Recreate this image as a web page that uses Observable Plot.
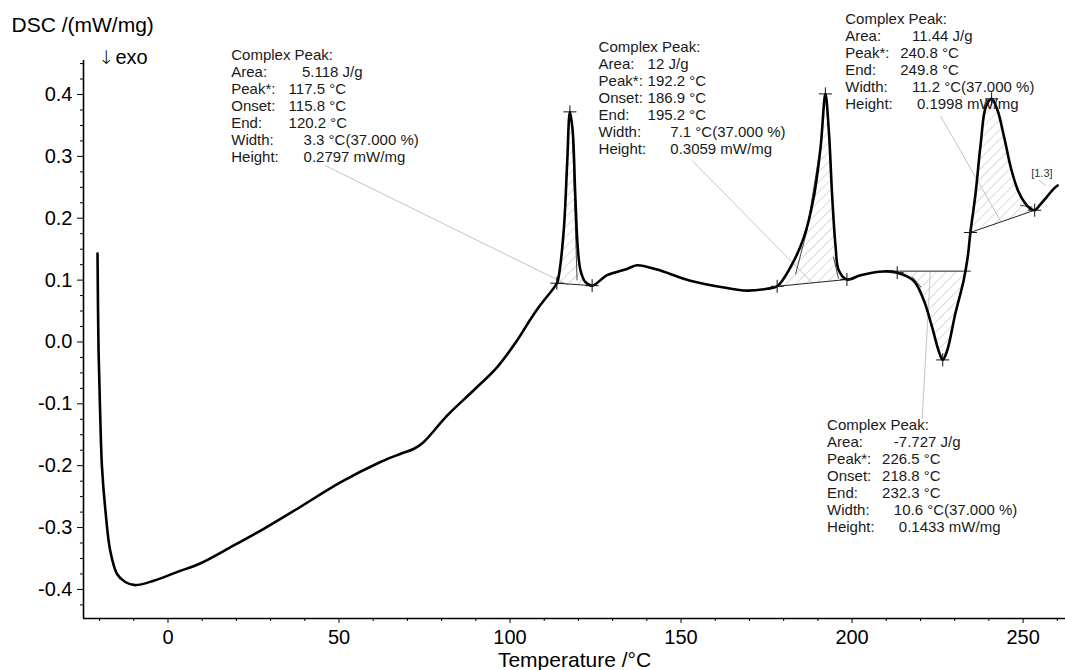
<!DOCTYPE html>
<html><head><meta charset="utf-8">
<script src="https://cdn.jsdelivr.net/npm/d3@7"></script>
<script src="https://cdn.jsdelivr.net/npm/@observablehq/plot@0.6"></script>
<style>html,body{margin:0;padding:0;background:#fff}svg{display:block}</style>
</head><body><div id="chart"></div>
<script>
// ---- data ----
const temperature = [-20.6,-20.3,-19.8,-19.3,-18.3,-16.9,-14.9,-12.5,-9.6,-4.2,2.6,9.4,18.2,28.0,37.7,50.4,62.1,67.9,71.8,74.7,81.6,89.4,96.2,102.0,105.9,108.9,113.7,114.2,115.7,116.7,117.5,118.3,119.1,119.8,120.6,122.0,124.0,128.4,134.2,137.1,143.0,152.7,162.5,169.3,175.1,178.1,182.0,185.9,188.8,190.8,192.2,193.2,194.2,195.2,196.1,198.5,202.5,209.2,213.2,218.0,221.0,223.4,225.3,226.5,227.8,230.2,232.6,233.8,234.6,236.1,237.6,239.1,240.8,242.5,244.5,246.5,248.5,250.5,252.0,253.4,255.0,257.0,259.0,260.1];
const dsc = [0.143,-0.014,-0.122,-0.202,-0.272,-0.337,-0.375,-0.388,-0.393,-0.386,-0.372,-0.358,-0.332,-0.302,-0.270,-0.227,-0.194,-0.181,-0.173,-0.162,-0.119,-0.078,-0.041,0.002,0.036,0.060,0.095,0.105,0.180,0.288,0.372,0.342,0.234,0.153,0.116,0.097,0.091,0.108,0.118,0.124,0.117,0.099,0.088,0.083,0.086,0.090,0.121,0.169,0.234,0.315,0.401,0.342,0.234,0.153,0.116,0.101,0.108,0.114,0.112,0.099,0.067,0.024,-0.014,-0.029,-0.014,0.046,0.099,0.137,0.177,0.240,0.320,0.380,0.393,0.375,0.330,0.280,0.245,0.225,0.216,0.213,0.222,0.235,0.248,0.253];

// peak baselines (start/end temperature and DSC value)
const baselineTemps = [[113.7,124.0],[178.1,198.5],[209.2,234.6],[234.6,253.4]];
const baselineDsc   = [[0.095,0.091],[0.090,0.101],[0.1145,0.1145],[0.177,0.213]];
// hatched integration ranges
const hatchTemps = [[113.7,124.0],[178.1,198.5],[213.2,232.6],[234.6,253.4]];

// "+" markers
const markerTemps = [113.7,117.5,124.0,178.1,192.2,198.5,213.2,226.5,234.6,240.8,253.4];
const markerDsc   = [0.095,0.372,0.091,0.090,0.401,0.101,0.112,-0.029,0.177,0.393,0.213];

// thin construction lines
const constructionTemps = [[119.6,118.2],[183.5,186.8,190.3],[194.6,196.0],[217.6,220.1],[249.2,252.6]];
const constructionDsc   = [[0.100,0.350],[0.110,0.180,0.300],[0.137,0.103],[0.105,0.089],[0.221,0.218]];

// leader lines from annotation boxes
const leaderTemps = [[46.0,117.0],[153.3,188.5],[225.9,243.4],[220.5,222.9],[254.7,256.5]];
const leaderDsc   = [[0.285,0.092],[0.293,0.095],[0.365,0.196],[-0.124,0.114],[0.261,0.253]];

// annotation texts
const annLabels = [
  ["Complex Peak:","Area:","Peak*:","Onset:","End:","Width:","Height:"],
  ["Complex Peak:","Area:","Peak*:","Onset:","End:","Width:","Height:"],
  ["Complex Peak:","Area:","Peak*:","End:","Width:","Height:"],
  ["Complex Peak:","Area:","Peak*:","Onset:","End:","Width:","Height:"]
];
const annValues = [
  ["","5.118 J/g","117.5 °C","115.8 °C","120.2 °C","3.3 °C(37.000 %)","0.2797 mW/mg"],
  ["","12 J/g","192.2 °C","186.9 °C","195.2 °C","7.1 °C(37.000 %)","0.3059 mW/mg"],
  ["","11.44 J/g","240.8 °C","249.8 °C","11.2 °C(37.000 %)","0.1998 mW/mg"],
  ["","-7.727 J/g","226.5 °C","218.8 °C","232.3 °C","10.6 °C(37.000 %)","0.1433 mW/mg"]
];
const annAnchorTemps = [18.5, 125.9, 198.0, 192.7];
const annAnchorDsc   = [0.463, 0.476, 0.521, -0.135];

const xMajor = [0,50,100,150,200,250];
const yMajor = [-0.4,-0.3,-0.2,-0.1,0.0,0.1,0.2,0.3,0.4];

// ---- layout / style ----
const valueOffsets = [
  [0,70.7,57.3,57.3,57.3,72.3,72.3],
  [0,49,49,49,49,71.7,71.7],
  [0,66.7,55,55,66.7,71.7],
  [0,66.7,55,55,55,66.7,71.7]
];
const lineStep = 16.9;
const xMinor = d3.range(-20, 261, 10).filter(d => d % 50 !== 0);
const yMinor = d3.range(-17, 19).map(i => +(i*0.025).toFixed(3)).filter(d => Math.abs(d*10 - Math.round(d*10)) > 1e-6);

const curve = temperature.map((T,i) => ({T, v: dsc[i]}));

const hatchRows = [];
hatchTemps.forEach(([a,b],k) => {
  const [t0,t1] = baselineTemps[k], [v0,v1] = baselineDsc[k];
  curve.filter(d => d.T >= a && d.T <= b).forEach(d => {
    hatchRows.push({k, T: d.T, v: d.v, base: v0 + (v1 - v0) * (d.T - t0) / (t1 - t0)});
  });
});
const segRows = (temps, vals) => temps.flatMap((ts,k) => ts.map((T,i) => ({k, T, v: vals[k][i]})));
const baseRows = segRows(baselineTemps, baselineDsc);
const consRows = segRows(constructionTemps, constructionDsc);
const leadRows = segRows(leaderTemps, leaderDsc);
const markers = markerTemps.map((T,i) => ({T, v: markerDsc[i]}));

const plusSymbol = {draw(ctx, size){ const r = Math.sqrt(size/Math.PI); ctx.moveTo(-r,0); ctx.lineTo(r,0); ctx.moveTo(0,-r); ctx.lineTo(0,r);} };

const annMarks = [];
annLabels.forEach((labels,b) => {
  labels.forEach((lab,i) => {
    const row = [{T: annAnchorTemps[b], v: annAnchorDsc[b]}];
    annMarks.push(Plot.text(row, {x:"T", y:"v", text: () => lab, dy: i*lineStep, textAnchor:"start", lineAnchor:"middle", fontSize:15, fill:"#1a1a1a"}));
    if (annValues[b][i]) annMarks.push(Plot.text(row, {x:"T", y:"v", text: () => annValues[b][i], dx: valueOffsets[b][i], dy: i*lineStep, textAnchor:"start", lineAnchor:"middle", fontSize:15, fill:"#1a1a1a"}));
  });
});

const xDomain = [-24.7, 262.4], yDomain = [-0.447, 0.455];

const svg = Plot.plot({
  width: 1065, height: 670,
  marginLeft: 83, marginRight: 0, marginTop: 60, marginBottom: 52,
  style: {fontFamily: "'Liberation Sans', Arial, sans-serif", background: "#fff", color: "#000"},
  x: {domain: xDomain},
  y: {domain: yDomain},
  marks: [
    Plot.areaY(hatchRows, {x:"T", y1:"base", y2:"v", z:"k", fill:"url(#hatch)", curve:"catmull-rom"}),
    Plot.line(leadRows, {x:"T", y:"v", z:"k", stroke:"#c4c4c4", strokeWidth:1}),
    Plot.line(baseRows, {x:"T", y:"v", z:"k", stroke:"#222", strokeWidth:1}),
    Plot.line(consRows, {x:"T", y:"v", z:"k", stroke:"#333", strokeWidth:0.9}),
    Plot.line(curve, {x:"T", y:"v", stroke:"#000", strokeWidth:2.6, curve:"catmull-rom"}),
    Plot.dot(markers, {x:"T", y:"v", symbol: plusSymbol, r: 6.5, stroke:"#111", strokeWidth:1, fill:"none"}),
    Plot.text([{T:255.5, v:0.272}], {x:"T", y:"v", text: () => "[1.3]", fontSize:11, fill:"#333", lineAnchor:"middle"}),
    Plot.axisX({ticks: xMajor, tickSize: 5, tickPadding: 6, fontSize: 20, tickFormat: d => String(d), label: null}),
    Plot.axisX({ticks: xMinor, tickSize: 3, tickFormat: () => "", label: null}),
    Plot.axisY({ticks: yMajor, tickSize: 6, tickPadding: 5, fontSize: 20, tickFormat: d => d.toFixed(1), label: null}),
    Plot.axisY({ticks: yMinor, tickSize: 3, tickFormat: () => "", label: null}),
    Plot.ruleX([xDomain[0]], {stroke:"#000", strokeWidth:1.6}),
    Plot.ruleY([yDomain[0]], {stroke:"#000", strokeWidth:1.6}),
    Plot.text(["DSC /(mW/mg)"], {frameAnchor:"top-left", dx:-72, dy:-35, textAnchor:"start", lineAnchor:"middle", fontSize:21}),
    Plot.text(["↓"], {frameAnchor:"top-left", dx:15, dy:-3, textAnchor:"start", lineAnchor:"middle", fontSize:19, fontFamily:"'DejaVu Sans'", fontWeight:200, fill:"#000"}),
    Plot.text(["exo"], {frameAnchor:"top-left", dx:32, dy:-3, textAnchor:"start", lineAnchor:"middle", fontSize:20}),
    Plot.text(["Temperature /°C"], {frameAnchor:"bottom", dy:42, lineAnchor:"middle", fontSize:21}),
    ...annMarks
  ]
});

const ns = "http://www.w3.org/2000/svg";
const defs = document.createElementNS(ns, "defs");
const pat = document.createElementNS(ns, "pattern");
pat.setAttribute("id", "hatch");
pat.setAttribute("patternUnits", "userSpaceOnUse");
pat.setAttribute("width", "7"); pat.setAttribute("height", "7");
pat.setAttribute("patternTransform", "rotate(45)");
const ln = document.createElementNS(ns, "line");
ln.setAttribute("x1","0"); ln.setAttribute("y1","0"); ln.setAttribute("x2","0"); ln.setAttribute("y2","7");
ln.setAttribute("stroke","#b5b5b5"); ln.setAttribute("stroke-width","1");
pat.appendChild(ln); defs.appendChild(pat);
svg.insertBefore(defs, svg.firstChild);
document.getElementById("chart").appendChild(svg);
</script>
</body></html>
